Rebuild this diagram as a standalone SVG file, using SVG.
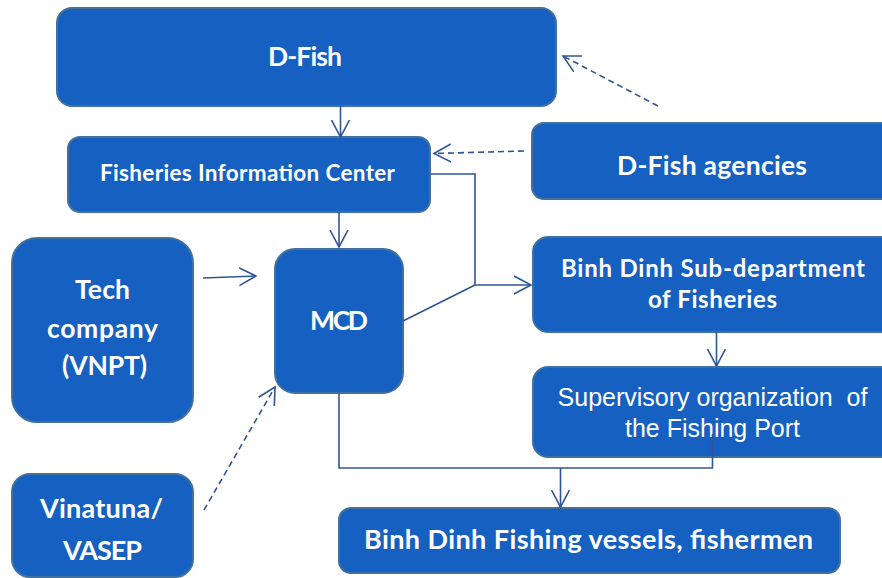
<svg xmlns="http://www.w3.org/2000/svg" width="882" height="578" viewBox="0 0 882 578">
<style>
.box{fill:#1560C1;stroke:#41719C;stroke-width:2}
.t{fill:#FFFFFF;font-family:Lato,"Open Sans","Noto Sans",sans-serif;font-weight:bold;text-anchor:middle}
.r{fill:#FFFFFF;font-family:"Liberation Sans",Arial,sans-serif;font-weight:normal;text-anchor:middle}
.c{fill:none;stroke:#2F5597;stroke-width:1.6}
.d{fill:none;stroke:#2F5597;stroke-width:1.6;stroke-dasharray:6 4}
</style>
<defs>
<marker id="ah" markerUnits="userSpaceOnUse" viewBox="0 -10 19 20" refX="17" refY="0" markerWidth="19" markerHeight="20" orient="auto">
<path d="M0,-9 L17,0 L0,9" fill="none" stroke="#2F5597" stroke-width="1.6"/>
</marker>
</defs>
<rect width="882" height="578" fill="#FFFFFF"/>
<g id="d-fish">
<rect class="box" x="57" y="8" width="499" height="98" rx="15"/>
<text class="t" x="305" y="66" font-size="26.5" textLength="74">D-Fish</text>
</g>
<g id="fic">
<rect class="box" x="68" y="137" width="362" height="75" rx="12"/>
<text class="t" x="247.5" y="181" font-size="22.5" textLength="295">Fisheries Information Center</text>
</g>
<g id="agencies">
<rect class="box" x="532" y="123" width="365" height="76" rx="12"/>
<text class="t" x="712" y="175" font-size="26.5" textLength="190">D-Fish agencies</text>
</g>
<g id="tech">
<rect class="box" x="12" y="238" width="181" height="184" rx="25"/>
<text class="t" x="102.5" y="299" font-size="26.5" textLength="55">Tech</text>
<text class="t" x="102.5" y="338" font-size="26.5" textLength="111">company</text>
<text class="t" x="104.5" y="375" font-size="26.5" textLength="85">(VNPT)</text>
</g>
<g id="mcd">
<rect class="box" x="275" y="249" width="128" height="144" rx="20"/>
<text class="t" x="339" y="330" font-size="26.5" textLength="58">MCD</text>
</g>
<g id="subdept">
<rect class="box" x="533" y="237" width="365" height="95" rx="15"/>
<text class="t" x="713" y="277" font-size="24" textLength="304">Binh Dinh Sub-department</text>
<text class="t" x="712.5" y="308" font-size="24" textLength="129">of Fisheries</text>
</g>
<g id="supervisory">
<rect class="box" x="533" y="367" width="365" height="90" rx="15"/>
<text class="r" x="712.5" y="406" font-size="25" xml:space="preserve">Supervisory organization  of</text>
<text class="r" x="712.5" y="437" font-size="25">the Fishing Port</text>
</g>
<g id="vinatuna">
<rect class="box" x="12" y="474" width="181" height="103" rx="18"/>
<text class="t" x="101.5" y="518" font-size="27" textLength="123">Vinatuna/</text>
<text class="t" x="102.5" y="560" font-size="27" textLength="79">VASEP</text>
</g>
<g id="vessels">
<rect class="box" x="339" y="508" width="501" height="65" rx="12"/>
<text class="t" x="588.5" y="549" font-size="27" textLength="449">Binh Dinh Fishing vessels, fishermen</text>
</g>
<g id="connectors">
<line class="c" x1="340.5" y1="106" x2="340.5" y2="137" marker-end="url(#ah)"/>
<line class="c" x1="339" y1="212" x2="339" y2="247" marker-end="url(#ah)"/>
<line class="c" x1="203" y1="278" x2="256" y2="276" marker-end="url(#ah)"/>
<line class="d" x1="524" y1="151" x2="434" y2="153.5" marker-end="url(#ah)"/>
<line class="d" x1="658" y1="106" x2="563" y2="56" marker-end="url(#ah)"/>
<line class="d" x1="204" y1="510" x2="275" y2="387" marker-end="url(#ah)"/>
<polyline class="c" points="430,174 475,174 475,285"/>
<line class="c" x1="475" y1="285" x2="531" y2="285" marker-end="url(#ah)"/>
<line class="c" x1="403" y1="321" x2="475" y2="285"/>
<polyline class="c" points="339,393 339,468 712.5,468 712.5,434"/>
<line class="c" x1="560.5" y1="468" x2="560.5" y2="507" marker-end="url(#ah)"/>
<line class="c" x1="716.5" y1="332" x2="716.5" y2="366" marker-end="url(#ah)"/>
</g>
</svg>
